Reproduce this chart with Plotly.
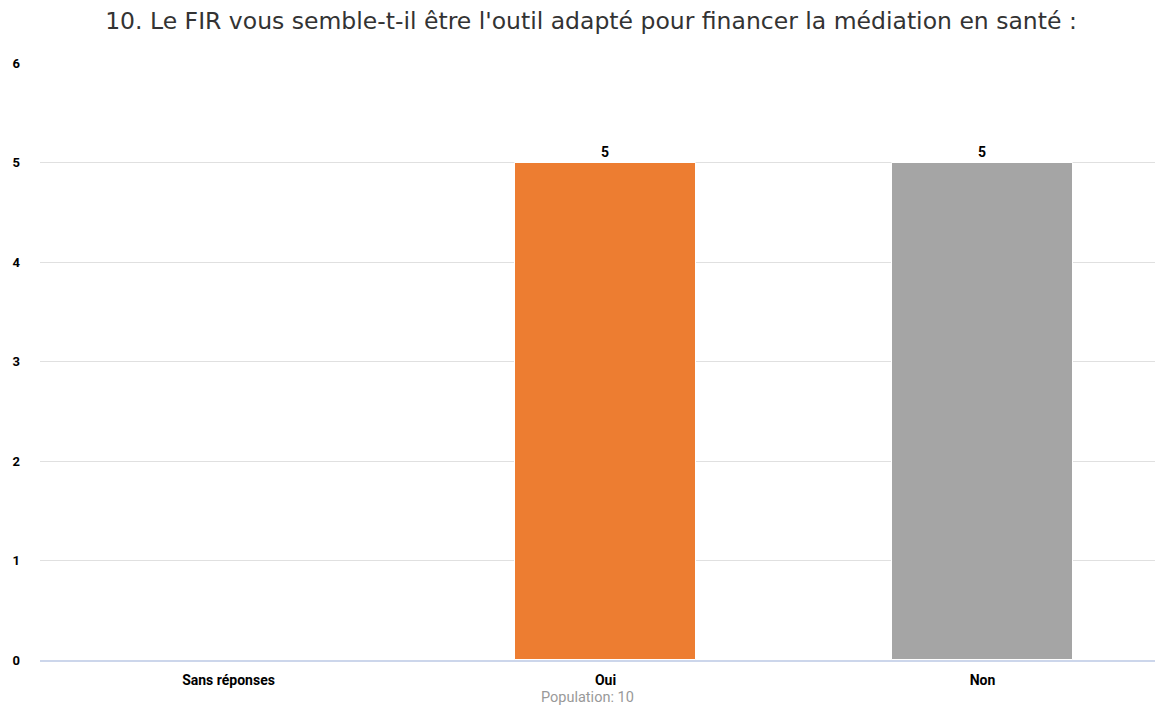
import plotly.graph_objects as go

categories = ["Sans réponses", "Oui", "Non"]
values = [0, 5, 5]
colors = ["#4472C4", "#ED7D31", "#A5A5A5"]
y_ticks = [0, 1, 2, 3, 4, 5, 6]
title = "10. Le FIR vous semble-t-il être l'outil adapté pour financer la médiation en santé :"
population_note = "Population: 10"

fig = go.Figure()
fig.add_trace(go.Bar(
    x=categories, y=values,
    marker=dict(color=colors, line=dict(width=1, color="white")),
    width=0.48,
    text=[str(v) if v else "" for v in values],
    textposition="outside",
    textfont=dict(family="Roboto", size=14, color="#000000", weight="bold"),
    cliponaxis=False,
))

fig.update_layout(
    width=1163, height=706,
    margin=dict(l=32, r=0, t=55, b=54),
    plot_bgcolor="white", paper_bgcolor="white",
    showlegend=False,
    bargap=0,
    title=dict(text=title, x=583 / 1163, xanchor="center", y=1 - 13 / 706, yanchor="middle",
               font=dict(family="DejaVu Sans", size=23.5, color="#333333")),
    xaxis=dict(
        range=[-0.5, 2.5],
        showgrid=False, zeroline=False,
        showline=True, linecolor="#ccd6eb", linewidth=2,
        ticks="", ticklabelstandoff=6,
        tickfont=dict(family="Roboto", size=14, color="#000000", weight="bold"),
    ),
    yaxis=dict(
        range=[0, 6], tickvals=y_ticks,
        showgrid=True, gridcolor="#e0e0e0", gridwidth=1,
        zeroline=False, showline=False,
        tickfont=dict(family="Roboto", size=13, color="#000000", weight="bold"),
        ticklabelstandoff=19,
    ),
    annotations=[dict(
        text=population_note, xref="paper", yref="paper",
        x=(579 - 32) / 1131, y=-(689 - 652) / 597, xanchor="center", yanchor="middle",
        showarrow=False, font=dict(family="Roboto", size=14.5, color="#999999"),
    )],
)

fig.write_html("out.html")
